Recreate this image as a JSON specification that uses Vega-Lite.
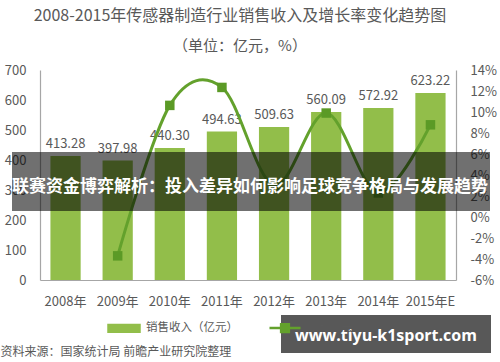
{
  "$schema": "https://vega.github.io/schema/vega-lite/v6.json",
  "width": 416,
  "height": 210,
  "autosize": "none",
  "padding": {"left": 40, "top": 70, "right": 44, "bottom": 82},
  "background": "white",
  "config": {
    "font": "Noto Sans CJK SC",
    "view": {"stroke": null},
    "axis": {"labelOverlap": false}
  },
  "title": {
    "text": "2008-2015年传感器制造行业销售收入及增长率变化趋势图",
    "subtitle": "（单位：亿元，%）",
    "anchor": "middle",
    "frame": "group",
    "dx": -8,
    "font": "Noto Sans CJK SC",
    "fontSize": 16,
    "fontWeight": "normal",
    "color": "#595959",
    "subtitleFont": "Noto Sans CJK SC",
    "subtitleFontSize": 15,
    "subtitleColor": "#595959",
    "subtitlePadding": 15,
    "offset": 10
  },
  "data": {
    "values": [
      {"year": "2008年", "sales": 413.28, "growth": null},
      {"year": "2009年", "sales": 397.98, "growth": -3.70},
      {"year": "2010年", "sales": 440.30, "growth": 10.63},
      {"year": "2011年", "sales": 494.63, "growth": 12.34},
      {"year": "2012年", "sales": 509.63, "growth": 3.03},
      {"year": "2013年", "sales": 560.09, "growth": 9.90},
      {"year": "2014年", "sales": 572.92, "growth": 2.29},
      {"year": "2015年E", "sales": 623.22, "growth": 8.78}
    ]
  },
  "encoding": {
    "x": {
      "field": "year",
      "type": "nominal",
      "sort": null,
      "scale": {"paddingInner": 0.42, "paddingOuter": 0.2},
      "axis": {
        "title": "资料来源：国家统计局 前瞻产业研究院整理",
        "titleAnchor": "start",
        "titleX": -40,
        "titleY": 71,
        "titleBaseline": "middle",
        "titleFont": "Noto Sans CJK SC",
        "titleFontSize": 12,
        "titleFontWeight": "normal",
        "titleColor": "#595959",
        "labelAngle": 0,
        "labelFontSize": 13,
        "labelColor": "#595959",
        "labelPadding": 15,
        "labelOverlap": false,
        "ticks": false,
        "domainColor": "#a6a6a6",
        "domainWidth": 1.2
      }
    }
  },
  "layer": [
    {
      "layer": [
        {
          "mark": {"type": "bar", "color": "#92be4a"},
          "encoding": {
            "y": {
              "field": "sales",
              "type": "quantitative",
              "scale": {"domain": [0, 700], "nice": false},
              "axis": {
                "title": null,
                "tickCount": 7,
                "grid": false,
                "ticks": false,
                "labelOverlap": false,
                "labelFontSize": 13,
                "labelColor": "#595959",
                "labelPadding": 14,
                "domainColor": "#a6a6a6",
                "domainWidth": 1.2
              }
            },
            "color": {
              "datum": "销售收入（亿元）",
              "type": "nominal",
              "scale": {
                "domain": ["销售收入（亿元）", "同比增长（%）"],
                "range": ["#92be4a", "#63a12c"]
              },
              "legend": {
                "orient": "none",
                "legendX": 67,
                "legendY": 241,
                "direction": "horizontal",
                "title": null,
                "symbolSize": 961,
                "symbolStrokeWidth": 2,
                "labelFont": "Noto Sans CJK SC",
                "labelFontSize": 11.5,
                "labelColor": "#595959",
                "labelOffset": 5,
                "columnPadding": 26,
                "encode": {
                  "symbols": {
                    "update": {
                      "shape": {"signal": "datum.value === '销售收入（亿元）' ? 'M-1,-0.22H1V0.22H-1Z' : 'M-1,0H1M-0.25,-0.25H0.25V0.25H-0.25Z'"},
                      "fill": {"signal": "datum.value === '销售收入（亿元）' ? '#92be4a' : '#3f7a1c'"},
                      "stroke": {"signal": "datum.value === '销售收入（亿元）' ? 'transparent' : '#63a12c'"},
                      "strokeWidth": {"value": 2.5},
                      "opacity": {"value": 1}
                    }
                  }
                }
              }
            }
          }
        },
        {
          "mark": {"type": "text", "baseline": "bottom", "dy": -5, "fontSize": 13, "color": "#595959"},
          "encoding": {
            "y": {"field": "sales", "type": "quantitative"},
            "text": {"field": "sales", "type": "quantitative", "format": ".2f"}
          }
        }
      ]
    },
    {
      "layer": [
        {
          "mark": {"type": "line", "interpolate": "cardinal", "strokeWidth": 3},
          "encoding": {
            "y": {
              "field": "growth",
              "type": "quantitative",
              "scale": {"domain": [-6, 14], "nice": false},
              "axis": {
                "orient": "right",
                "title": null,
                "tickCount": 10,
                "labelExpr": "datum.value + '%'",
                "grid": false,
                "ticks": false,
                "labelOverlap": false,
                "labelFontSize": 13,
                "labelColor": "#595959",
                "labelPadding": 14,
                "domainColor": "#a6a6a6",
                "domainWidth": 1.2
              }
            },
            "color": {"datum": "同比增长（%）", "type": "nominal"}
          }
        },
        {
          "mark": {"type": "square", "size": 90, "color": "#5b9a26", "opacity": 1},
          "encoding": {
            "y": {"field": "growth", "type": "quantitative"}
          }
        }
      ]
    },
    {
      "data": {"values": [{"label": "联赛资金博弈解析：投入差异如何影响足球竞争格局与发展趋势"}]},
      "layer": [
        {
          "mark": {"type": "rect", "color": "#000000", "opacity": 0.56},
          "encoding": {
            "x": {"value": -28},
            "x2": {"value": 450},
            "y": {"value": 82},
            "y2": {"value": 141}
          }
        },
        {
          "mark": {"type": "text", "color": "white", "fontSize": 17, "fontWeight": "bold", "font": "Noto Sans CJK SC", "align": "center", "baseline": "middle"},
          "encoding": {
            "x": {"value": 210},
            "y": {"value": 117},
            "text": {"field": "label"}
          }
        }
      ]
    },
    {
      "data": {"values": [{"label": "www.tiyu-k1sport.com"}]},
      "layer": [
        {
          "mark": {"type": "rect", "color": "#333333", "opacity": 0.82},
          "encoding": {
            "x": {"value": 241},
            "x2": {"value": 451},
            "y": {"value": 245},
            "y2": {"value": 283}
          }
        },
        {
          "mark": {"type": "text", "color": "white", "fontSize": 16, "fontWeight": "bold", "font": "Open Sans", "align": "center", "baseline": "middle"},
          "encoding": {
            "x": {"value": 346},
            "y": {"value": 266},
            "text": {"field": "label"}
          }
        }
      ]
    }
  ],
  "resolve": {"scale": {"y": "independent"}}
}
